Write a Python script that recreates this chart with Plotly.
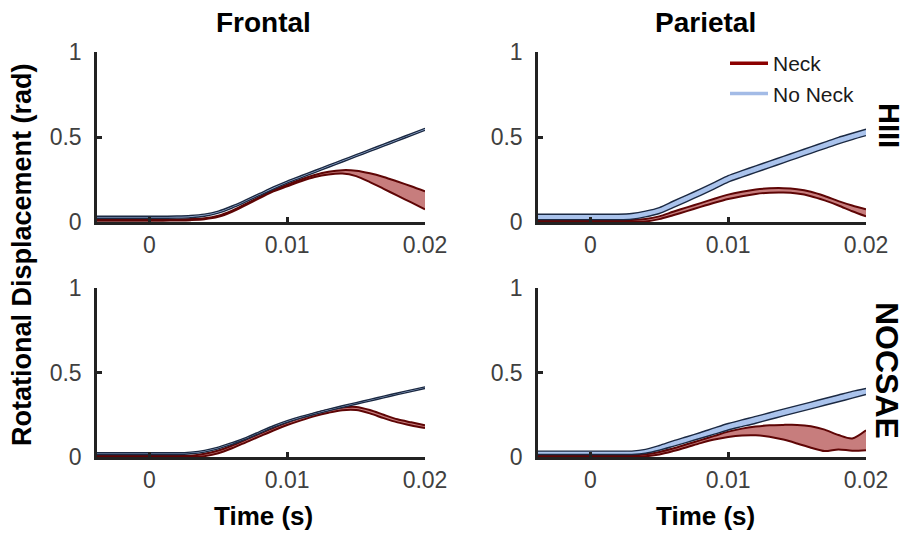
import plotly.graph_objects as go

# ---------------- data ----------------
time = [-0.004, -0.003, -0.002, -0.001, 0.0, 0.001, 0.002, 0.003, 0.004, 0.005,
        0.006, 0.007, 0.008, 0.009, 0.010, 0.011, 0.012, 0.013, 0.014, 0.015,
        0.016, 0.017, 0.018, 0.019, 0.020]

# Frontal / HIII
fh_neck_lo = [0.008, 0.008, 0.008, 0.008, 0.008, 0.008, 0.009, 0.011, 0.016, 0.030, 0.060, 0.100, 0.140,
              0.180, 0.210, 0.240, 0.265, 0.280, 0.285, 0.270, 0.235, 0.195, 0.155, 0.115, 0.075]
fh_neck_hi = [0.014, 0.014, 0.014, 0.014, 0.014, 0.014, 0.015, 0.017, 0.022, 0.037, 0.067, 0.107, 0.147,
              0.187, 0.220, 0.250, 0.276, 0.295, 0.305, 0.302, 0.287, 0.265, 0.238, 0.210, 0.180]
fh_nn_lo = [0.022, 0.022, 0.022, 0.022, 0.022, 0.022, 0.023, 0.026, 0.034, 0.052, 0.082, 0.118, 0.156,
            0.194, 0.229, 0.260, 0.291, 0.322, 0.353, 0.384, 0.415, 0.446, 0.477, 0.508, 0.539]
fh_nn_hi = [0.034, 0.034, 0.034, 0.034, 0.034, 0.034, 0.035, 0.038, 0.046, 0.064, 0.094, 0.130, 0.168,
            0.206, 0.241, 0.272, 0.303, 0.334, 0.365, 0.396, 0.427, 0.458, 0.489, 0.520, 0.551]

# Parietal / HIII
ph_neck_lo = [0.000, 0.000, 0.000, 0.000, 0.000, 0.000, 0.000, 0.000, 0.003, 0.017, 0.040, 0.064, 0.089,
              0.113, 0.135, 0.152, 0.165, 0.172, 0.173, 0.167, 0.152, 0.127, 0.097, 0.063, 0.033]
ph_neck_hi = [0.012, 0.012, 0.012, 0.012, 0.012, 0.012, 0.012, 0.012, 0.017, 0.033, 0.060, 0.086, 0.111,
              0.137, 0.161, 0.178, 0.191, 0.198, 0.199, 0.193, 0.178, 0.153, 0.123, 0.097, 0.075]
ph_nn_lo = [0.014, 0.014, 0.014, 0.014, 0.014, 0.014, 0.014, 0.017, 0.030, 0.050, 0.085, 0.120, 0.157,
            0.195, 0.235, 0.264, 0.292, 0.320, 0.348, 0.376, 0.404, 0.432, 0.460, 0.485, 0.508]
ph_nn_hi = [0.046, 0.046, 0.046, 0.046, 0.046, 0.046, 0.046, 0.050, 0.064, 0.085, 0.122, 0.158, 0.195,
            0.233, 0.273, 0.302, 0.330, 0.358, 0.386, 0.414, 0.442, 0.470, 0.498, 0.522, 0.546]

# Frontal / NOCSAE
fn_neck_lo = [0.000, 0.000, 0.000, 0.000, 0.000, 0.000, 0.000, 0.000, 0.005, 0.022, 0.052, 0.087, 0.122,
              0.157, 0.189, 0.217, 0.242, 0.262, 0.277, 0.278, 0.258, 0.230, 0.205, 0.187, 0.172]
fn_neck_hi = [0.008, 0.008, 0.008, 0.008, 0.008, 0.008, 0.008, 0.008, 0.019, 0.038, 0.068, 0.103, 0.138,
              0.173, 0.205, 0.233, 0.258, 0.278, 0.293, 0.296, 0.278, 0.250, 0.223, 0.205, 0.188]
fn_nn_lo = [0.015, 0.015, 0.015, 0.015, 0.015, 0.015, 0.015, 0.019, 0.029, 0.048, 0.075, 0.105, 0.140,
            0.175, 0.205, 0.230, 0.252, 0.273, 0.293, 0.312, 0.331, 0.350, 0.369, 0.387, 0.405]
fn_nn_hi = [0.025, 0.025, 0.025, 0.025, 0.025, 0.025, 0.025, 0.029, 0.039, 0.058, 0.085, 0.115, 0.150,
            0.185, 0.215, 0.240, 0.262, 0.283, 0.303, 0.322, 0.341, 0.360, 0.379, 0.397, 0.415]

# Parietal / NOCSAE
pn_neck_lo = [0.000, 0.000, 0.000, 0.000, 0.000, 0.000, 0.000, 0.000, 0.004, 0.015, 0.035, 0.058, 0.082,
              0.103, 0.118, 0.127, 0.128, 0.120, 0.103, 0.080, 0.055, 0.035, 0.045, 0.037, 0.040]
pn_neck_hi = [0.010, 0.010, 0.010, 0.010, 0.010, 0.010, 0.010, 0.010, 0.016, 0.030, 0.050, 0.075, 0.100,
              0.125, 0.150, 0.168, 0.180, 0.188, 0.190, 0.190, 0.182, 0.162, 0.130, 0.110, 0.158]
pn_nn_lo = [0.015, 0.015, 0.015, 0.015, 0.015, 0.015, 0.015, 0.015, 0.022, 0.040, 0.063, 0.087, 0.111,
            0.135, 0.160, 0.180, 0.200, 0.222, 0.243, 0.264, 0.285, 0.306, 0.327, 0.348, 0.370]
pn_nn_hi = [0.035, 0.035, 0.035, 0.035, 0.035, 0.035, 0.035, 0.035, 0.045, 0.068, 0.095, 0.120, 0.145,
            0.172, 0.198, 0.220, 0.240, 0.262, 0.283, 0.304, 0.325, 0.346, 0.367, 0.388, 0.405]

col_titles = ["Frontal", "Parietal"]
row_titles = ["HIII", "NOCSAE"]
series_names = ["Neck", "No Neck"]
x_ticks = [0, 0.01, 0.02]
x_ticklabels = ["0", "0.01", "0.02"]
y_ticks = [0, 0.5, 1]
y_ticklabels = ["0", "0.5", "1"]

# ---------------- style ----------------
FONT = "Arial, 'Liberation Sans', sans-serif"
NECK_EDGE = "#5e0505"
NECK_FILL = "rgba(165,45,45,0.62)"
NN_EDGE = "#1b2942"
NN_FILL = "#aac3ec"
LEG_NECK = "#8b0000"
LEG_NN = "#a3bbe6"
AX = "#222222"
TICKC = "#404040"

W, H = 907, 533
px = lambda v: v / W
py = lambda v: 1 - v / H

xdom = {1: [px(97), px(425)], 2: [px(538), px(866)]}
ydom = {1: [py(222), py(52)], 2: [py(457), py(288)]}
col_center = {1: px(263), 2: px(705)}

panels = {
    (1, 1): (fh_neck_lo, fh_neck_hi, fh_nn_lo, fh_nn_hi),
    (1, 2): (ph_neck_lo, ph_neck_hi, ph_nn_lo, ph_nn_hi),
    (2, 1): (fn_neck_lo, fn_neck_hi, fn_nn_lo, fn_nn_hi),
    (2, 2): (pn_neck_lo, pn_neck_hi, pn_nn_lo, pn_nn_hi),
}

fig = go.Figure()
layout = dict(template="none", width=W, height=H, margin=dict(l=0, r=0, t=0, b=0, autoexpand=False),
              paper_bgcolor="white", plot_bgcolor="white",
              font=dict(family=FONT, color="black"), showlegend=True)

idx = 0
for (r, c), (nlo, nhi, blo, bhi) in panels.items():
    idx += 1
    xa = "x" if idx == 1 else f"x{idx}"
    ya = "y" if idx == 1 else f"y{idx}"
    for lo, hi, edge, fill, w in ((nlo, nhi, NECK_EDGE, NECK_FILL, 2.0),
                                  (blo, bhi, NN_EDGE, NN_FILL, 1.4)):
        fig.add_trace(go.Scatter(x=time, y=lo, mode="lines", xaxis=xa, yaxis=ya,
                                 line=dict(color=edge, width=w, shape="spline", smoothing=0.8),
                                 showlegend=False, hoverinfo="skip"))
        fig.add_trace(go.Scatter(x=time, y=hi, mode="lines", xaxis=xa, yaxis=ya,
                                 fill="tonexty", fillcolor=fill,
                                 line=dict(color=edge, width=w, shape="spline", smoothing=0.8),
                                 showlegend=False, hoverinfo="skip"))
    xkey = "xaxis" if idx == 1 else f"xaxis{idx}"
    ykey = "yaxis" if idx == 1 else f"yaxis{idx}"
    layout[xkey] = dict(domain=xdom[c], anchor=ya, range=[-0.0038, 0.02], automargin=False,
                        tickvals=x_ticks, ticktext=x_ticklabels, ticks="inside",
                        ticklen=5, tickwidth=2.5, tickcolor=AX,
                        showline=True, linecolor=AX, linewidth=2.5, showgrid=False,
                        zeroline=False, ticklabelstandoff=1,
                        tickfont=dict(size=23, color=TICKC, family=FONT))
    layout[ykey] = dict(domain=ydom[r], anchor=xa, range=[0, 1], automargin=False,
                        tickvals=y_ticks, ticktext=y_ticklabels, ticks="inside",
                        ticklen=5, tickwidth=2.5, tickcolor=AX,
                        showline=True, linecolor=AX, linewidth=2.5, showgrid=False,
                        zeroline=False, ticklabelstandoff=8,
                        tickfont=dict(size=23, color=TICKC, family=FONT))

# legend entries
fig.add_trace(go.Scatter(x=[None], y=[None], mode="lines", name=series_names[0],
                         line=dict(color=LEG_NECK, width=3.5), xaxis="x2", yaxis="y2"))
fig.add_trace(go.Scatter(x=[None], y=[None], mode="lines", name=series_names[1],
                         line=dict(color=LEG_NN, width=3.5), xaxis="x2", yaxis="y2"))

layout["legend"] = dict(x=px(725), y=py(43), xanchor="left", yanchor="top",
                        bgcolor="rgba(0,0,0,0)", font=dict(size=21, color="#1a1a1a", family=FONT),
                        itemwidth=38, tracegroupgap=0, traceorder="normal")

ann = []
for c, t in zip((1, 2), col_titles):
    ann.append(dict(text=f"<b>{t}</b>", x=col_center[c], y=py(22),
                    xref="paper", yref="paper", showarrow=False, xanchor="center",
                    yanchor="middle", font=dict(size=28, color="black", family=FONT)))
    ann.append(dict(text="<b>Time (s)</b>", x=col_center[c], y=0,
                    xref="paper", yref="paper", showarrow=False, xanchor="center",
                    yanchor="bottom", font=dict(size=26, color="black", family=FONT)))
for r, t, yc, fs in zip((1, 2), row_titles, (125, 370), (29, 32)):
    ann.append(dict(text=f"<b>{t}</b>", x=1, y=py(yc), textangle=90,
                    xref="paper", yref="paper", showarrow=False, xanchor="right",
                    yanchor="middle", font=dict(size=fs, color="black", family=FONT)))
ann.append(dict(text="<b>Rotational Displacement (rad)</b>", x=px(22), y=py(255), textangle=-90,
                xref="paper", yref="paper", showarrow=False, xanchor="center",
                yanchor="middle", font=dict(size=27, color="black", family=FONT)))
layout["annotations"] = ann

fig.update_layout(**layout)
fig.write_html("out.html")
